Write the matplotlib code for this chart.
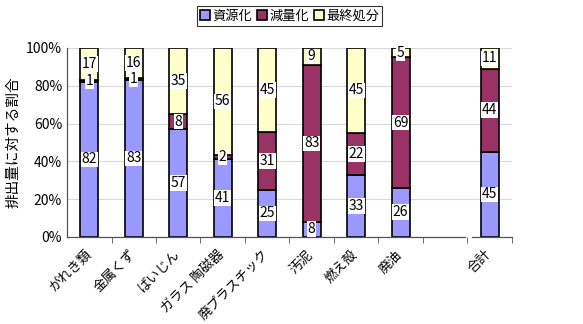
import numpy as np
import matplotlib
matplotlib.use("Agg")
import matplotlib.pyplot as plt
import matplotlib.transforms as mtransforms

plt.rcParams['font.family'] = ['Noto Sans CJK JP', 'DejaVu Sans']

categories = ['がれき類', '金属くず', 'ばいじん', 'ガラス 陶磁器', '廃プラスチック',
              '汚泥', '燃え殻', '廃油', '合計']
positions = [0, 1, 2, 3, 4, 5, 6, 7, 9]
resource = [82, 83, 57, 41, 25, 8, 33, 26, 45]
reduction = [1, 1, 8, 2, 31, 83, 22, 69, 44]
final = [17, 16, 35, 56, 45, 9, 45, 5, 11]
series_names = ['資源化', '減量化', '最終処分']
colors = ['#9999ff', '#993366', '#ffffcc']

data = np.array([resource, reduction, final], dtype=float)
shares = data / data.sum(axis=0)

fig = plt.figure(figsize=(5.83, 3.24), dpi=100)
ax = fig.add_axes([0.115, 0.269, 0.763, 0.583])

bottom = np.zeros(len(categories))
for vals, share, name, col in zip(data, shares, series_names, colors):
    ax.bar(positions, share, 0.4, bottom=bottom, color=col, edgecolor='black',
           linewidth=1.2, label=name, zorder=3)
    for x, b, s, v in zip(positions, bottom, share, vals):
        ax.text(x, b + s / 2, f'{v:g}', ha='center', va='center', fontsize=10,
                zorder=5, bbox=dict(facecolor='white', edgecolor='none', pad=0.6))
    bottom += share

ax.set_xlim(-0.5, 9.5)
ax.set_ylim(0, 1)
ax.set_yticks(np.arange(0, 1.01, 0.2))
ax.set_yticklabels([f'{int(round(t * 100))}%' for t in np.arange(0, 1.01, 0.2)], fontsize=10)
ax.yaxis.grid(True, color='#d9d9d9', linewidth=0.8, zorder=0)
ax.set_ylabel('排出量に対する割合', fontsize=10.5, labelpad=4)

ax.set_xticks(positions)
ax.set_xticklabels(categories, rotation=45, ha='right', rotation_mode='anchor', fontsize=9.5)
ax.tick_params(axis='x', length=0, pad=8)
shift = mtransforms.ScaledTranslation(-5 / 100, 0, fig.dpi_scale_trans)
for lbl in ax.get_xticklabels():
    lbl.set_transform(lbl.get_transform() + shift)
ax.set_xticks(np.arange(0.5, 9.6, 1), minor=True)
ax.tick_params(axis='x', which='minor', length=4, direction='out', color='#555555')
ax.tick_params(axis='y', length=0)

for side in ['top', 'right', 'left', 'bottom']:
    ax.spines[side].set_visible(False)
# left spine and broken bottom axis
ax.plot([-0.5, -0.5], [0, 1], color='#555555', lw=0.9, clip_on=False, zorder=4)
ax.plot([-0.5, 8.45], [0, 0], color='#555555', lw=0.9, clip_on=False, zorder=4)
ax.plot([8.6, 9.5], [0, 0], color='#555555', lw=0.9, clip_on=False, zorder=4)

leg = fig.legend(loc='center', bbox_to_anchor=(0.497, 0.951), ncol=3, fontsize=9.5,
                 frameon=True, fancybox=False, edgecolor='black', handlelength=0.75,
                 handleheight=0.75, handletextpad=0.15, columnspacing=0.4,
                 borderpad=0.25, borderaxespad=0)
leg.get_frame().set_linewidth(0.8)

fig.savefig('out.png', dpi=100)
